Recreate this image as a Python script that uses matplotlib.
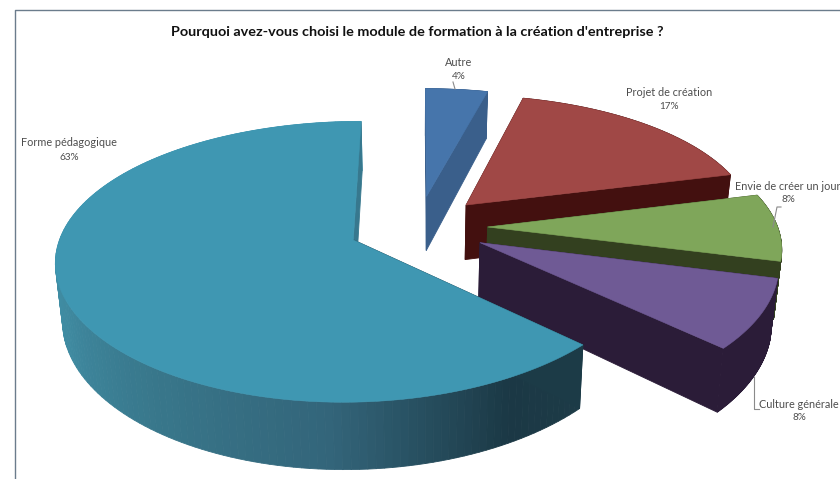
import matplotlib
matplotlib.use("Agg")
import matplotlib.pyplot as plt
from matplotlib.colors import to_rgb
from matplotlib.patches import Polygon
import numpy as np

plt.rcParams["font.family"] = ["Lato", "DejaVu Sans"]

title = "Pourquoi avez-vous choisi le module de formation à la création d'entreprise ?"
categories = ["Forme pédagogique", "Autre", "Projet de création",
              "Envie de créer un jour", "Culture générale"]
percentages = [63, 4, 17, 8, 8]

top_colors = ["#3f97b2", "#4675ab", "#a04846", "#7fa65a", "#6f5a95"]
wall_colors = ["#1c3b47", "#3a5f8b", "#43100f", "#33401f", "#2b1c38"]

# pie geometry, in pixels of the figure
cx, cy = 418, 227
radius = 290
tilt = 133
depth = 56
explode = 0.24
persp = 0.154
persp_x = 0.135
shrink = 0.98


def project(u, v):
    x = cx + radius * u / (1 + persp_x * v)
    y = cy - tilt * v / (1 + persp * v)
    return x, y


def project_low(u, v):
    x, y = project(u, v)
    return cx + shrink * (x - cx), y + depth / (1 + persp * v)


def quad(ax, p1, p2, p3, p4, color, z):
    ax.add_patch(Polygon([p1, p2, p3, p4], closed=True, facecolor=color,
                         edgecolor=color, linewidth=0.6, zorder=z))


def wall_color(i, t0, t1, t):
    # the big slice has a shaded outer wall, the others are flat
    if i != 0:
        return wall_colors[i]
    pos = (t - t0) / (t1 - t0)
    stops = [0.0, 0.33, 0.5, 0.62, 0.78, 0.92, 1.0]
    cols = ["#3f97b2", "#3f97b2", "#3f8aa0", "#39798d", "#33657a", "#1b3845", "#1d3b47"]
    rgb = np.array([to_rgb(c) for c in cols])
    return tuple(np.interp(pos, stops, rgb[:, k]) for k in range(3))


def draw_slice(ax, i, t0, t1, z):
    mid = np.radians((t0 + t1) / 2)
    ou, ov = explode * np.cos(mid), explode * np.sin(mid)
    ts = np.linspace(t0, t1, 160)
    us = ou + np.cos(np.radians(ts))
    vs = ov + np.sin(np.radians(ts))

    # outer wall
    for j in range(len(ts) - 1):
        quad(ax, project(us[j], vs[j]), project(us[j + 1], vs[j + 1]),
             project_low(us[j + 1], vs[j + 1]), project_low(us[j], vs[j]),
             wall_color(i, t0, t1, ts[j]), z)

    # the two cut faces, the back one of the big slice is lit
    for k in [0, -1]:
        face = "#37788e" if (i == 0 and k == 0) else wall_colors[i]
        quad(ax, project(ou, ov), project(us[k], vs[k]),
             project_low(us[k], vs[k]), project_low(ou, ov), face, z)

    pts = [project(ou, ov)] + [project(a, b) for a, b in zip(us, vs)]
    ax.add_patch(Polygon(pts, closed=True, facecolor=top_colors[i],
                         edgecolor=top_colors[i], linewidth=0.4, zorder=z + 0.5))


fig = plt.figure(figsize=(8.4, 4.79), dpi=100)
ax = fig.add_axes([0, 0, 1, 1])
ax.set_xlim(0, 840)
ax.set_ylim(479, 0)
ax.axis("off")

# chart frame, cut by the right and bottom edges
ax.plot([15, 15, 840], [479, 10, 10], color="#6b7c8c", linewidth=1, zorder=1)

# angles run from the top of the pie: first slice counterclockwise, others clockwise
spans = np.array(percentages) * 3.6
edges = [90.0]
for s in spans[1:]:
    edges.append(edges[-1] - s)

order = [1, 2, 3, 4, 0]
for n, i in enumerate(order):
    if i == 0:
        t0, t1 = 90.0, 90.0 + spans[0]
    else:
        t0, t1 = edges[i], edges[i - 1]
    draw_slice(ax, i, t0, t1, 2 + n)

ax.text(417.5, 32, title, ha="center", va="center", fontsize=10.4,
        fontweight="bold", color="#111111", zorder=20)

label_color = "#4d4d4d"
label_pos = [(69, 143, 69, 157, "center"), (459, 62, 459, 76, "center"),
             (669, 92, 669, 106, "center"), (735, 186, 788, 200, "left"),
             (759, 405, 799, 418, "left")]
for name, pct, (x1, y1, x2, y2, align) in zip(categories, percentages, label_pos):
    ax.text(x1, y1, name, ha=align, va="center", fontsize=7.8, color=label_color, zorder=20)
    ax.text(x2, y2, f"{pct}%", ha="center", va="center", fontsize=7.2, color=label_color, zorder=20)

# leader lines
line_color = "#8a8a8a"
ax.plot([453, 455], [82, 89], color=line_color, linewidth=0.8, zorder=20)
ax.plot([781, 777, 773], [207, 207, 227], color=line_color, linewidth=0.8, zorder=20)
ax.plot([759, 754, 754], [409, 409, 377], color=line_color, linewidth=0.8, zorder=20)

fig.savefig("out.png", dpi=100)
